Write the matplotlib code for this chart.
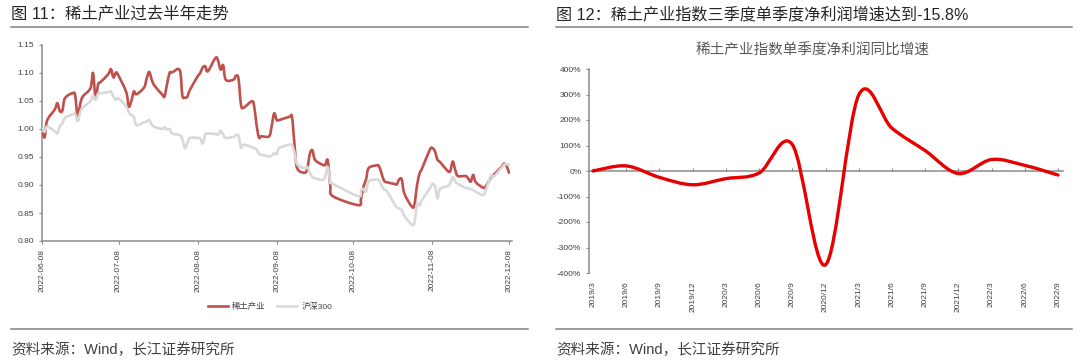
import matplotlib
matplotlib.use("Agg")
import matplotlib.pyplot as plt
import matplotlib.dates as mdates
from matplotlib.path import Path
from matplotlib.patches import PathPatch
from matplotlib.lines import Line2D
import numpy as np
import pandas as pd

plt.rcParams['font.family'] = ['Liberation Sans', 'Noto Sans CJK SC', 'DejaVu Sans']
plt.rcParams['axes.unicode_minus'] = False

# ---------------- data: left chart ----------------
holidays = ['2022-09-12', '2022-10-03', '2022-10-04', '2022-10-05', '2022-10-06', '2022-10-07']
dates = pd.bdate_range('2022-06-08', '2022-12-08')
dates = dates[~dates.isin(pd.to_datetime(holidays))]

rare_earth_jun = [1.000, 0.985, 1.015, 1.035, 1.046, 1.032, 1.033, 1.055, 1.064, 1.060, 1.020, 1.045, 1.058, 1.073, 1.100, 1.055, 1.080]
rare_earth_jul = [1.084, 1.098, 1.107, 1.092, 1.101, 1.095, 1.066, 1.040, 1.050, 1.067, 1.062, 1.074, 1.090, 1.102, 1.088, 1.078, 1.062, 1.058, 1.080, 1.100, 1.101]
rare_earth_aug = [1.105, 1.060, 1.056, 1.058, 1.070, 1.094, 1.100, 1.110, 1.112, 1.103, 1.127, 1.122, 1.106, 1.114, 1.088, 1.088, 1.095, 1.090, 1.043, 1.038, 1.049, 1.045, 1.010]
rare_earth_sep = [0.985, 0.987, 0.987, 1.005, 1.028, 1.016, 1.016, 1.022, 1.021, 0.970, 0.930, 0.922, 0.930, 0.956, 0.962, 0.945, 0.936, 0.936, 0.944, 0.898, 0.880]
rare_earth_oct = [0.864, 0.875, 0.897, 0.910, 0.930, 0.935, 0.934, 0.922, 0.908, 0.905, 0.902, 0.901, 0.910, 0.910, 0.885, 0.861]
rare_earth_nov = [0.866, 0.900, 0.921, 0.930, 0.963, 0.966, 0.960, 0.945, 0.941, 0.925, 0.925, 0.942, 0.926, 0.916, 0.916, 0.912, 0.906, 0.918, 0.905, 0.895, 0.898, 0.906]
rare_earth_dec = [0.914, 0.918, 0.932, 0.938, 0.935, 0.922]

hs300_jun = [1.000, 0.995, 1.004, 0.996, 0.992, 1.005, 1.010, 1.020, 1.026, 1.027, 1.014, 1.030, 1.038, 1.050, 1.060, 1.052, 1.063]
hs300_jul = [1.064, 1.066, 1.067, 1.058, 1.052, 1.055, 1.040, 1.030, 1.025, 1.022, 1.007, 1.012, 1.013, 1.016, 1.008, 1.004, 1.000, 1.003, 0.999, 1.000, 0.992]
hs300_aug = [0.989, 0.982, 0.966, 0.975, 0.984, 0.984, 0.983, 0.974, 0.990, 0.992, 0.991, 0.990, 0.997, 0.990, 0.984, 0.986, 0.989, 0.988, 0.967, 0.972, 0.968, 0.966, 0.964]
hs300_sep = [0.956, 0.954, 0.951, 0.952, 0.957, 0.955, 0.966, 0.972, 0.971, 0.957, 0.937, 0.930, 0.932, 0.922, 0.914, 0.912, 0.909, 0.915, 0.932, 0.906, 0.902]
hs300_oct = [0.880, 0.890, 0.893, 0.888, 0.906, 0.910, 0.909, 0.900, 0.892, 0.890, 0.867, 0.860, 0.858, 0.855, 0.845, 0.829]
hs300_nov = [0.834, 0.866, 0.864, 0.874, 0.894, 0.902, 0.898, 0.876, 0.893, 0.898, 0.904, 0.914, 0.906, 0.902, 0.895, 0.894, 0.893, 0.891, 0.888, 0.882, 0.892, 0.905]
hs300_dec = [0.918, 0.915, 0.930, 0.936, 0.937, 0.936]

rare_earth = (rare_earth_jun + rare_earth_jul + rare_earth_aug + rare_earth_sep
              + rare_earth_oct + rare_earth_nov + rare_earth_dec)
hs300 = hs300_jun + hs300_jul + hs300_aug + hs300_sep + hs300_oct + hs300_nov + hs300_dec

left_yticks = [0.80, 0.85, 0.90, 0.95, 1.00, 1.05, 1.10, 1.15]
left_xticks = ['2022-06-08', '2022-07-08', '2022-08-08', '2022-09-08',
               '2022-10-08', '2022-11-08', '2022-12-08']
legend_labels = ['稀土产业', '沪深300']

# ---------------- data: right chart ----------------
quarters = ['2019/3', '2019/6', '2019/9', '2019/12', '2020/3', '2020/6', '2020/9',
            '2020/12', '2021/3', '2021/6', '2021/9', '2021/12', '2022/3', '2022/6', '2022/9']
profit_growth = [0, 20, -25, -54, -30, -8, 104, -368, 298, 168, 80, -10, 45, 22, -15.8]
right_yticks = [-400, -300, -200, -100, 0, 100, 200, 300, 400]

# ---------------- styles ----------------
RED_L = '#C0504D'
GRAY_L = '#D9D9D9'
RED_R = '#E80000'
AXIS_C = '#8C8C8C'
TXT = '#404040'


def smooth_patch(x, y, color, lw, z):
    x = np.asarray(x, float)
    y = np.asarray(y, float)
    n = len(x)
    verts = [(x[0], y[0])]
    codes = [Path.MOVETO]
    for i in range(n - 1):
        i0 = i - 1 if i > 0 else i
        i3 = i + 2 if i + 2 < n else i + 1
        c1 = (x[i] + (x[i + 1] - x[i0]) / 6.0, y[i] + (y[i + 1] - y[i0]) / 6.0)
        c2 = (x[i + 1] - (x[i3] - x[i]) / 6.0, y[i + 1] - (y[i3] - y[i]) / 6.0)
        verts += [c1, c2, (x[i + 1], y[i + 1])]
        codes += [Path.CURVE4] * 3
    return PathPatch(Path(verts, codes), fill=False, edgecolor=color, lw=lw,
                     capstyle='round', joinstyle='round', zorder=z)


fig = plt.figure(figsize=(10.8, 3.64), dpi=100)
W, H = 1080.0, 364.0


def fx(px):
    return px / W


def fy(py):
    return 1 - py / H


# ---------- headers / footers ----------
fig.text(fx(11), fy(13), '图 11：稀土产业过去半年走势', fontsize=11.8, color='#262626',
         ha='left', va='center')
fig.text(fx(556), fy(14), '图 12：稀土产业指数三季度单季度净利润增速达到-15.8%', fontsize=11.6,
         color='#262626', ha='left', va='center')
for x0, x1 in [(11, 528), (556, 1072)]:
    fig.add_artist(Line2D([fx(x0), fx(x1)], [fy(26.5), fy(26.5)], color='#808080', lw=1.1))
    fig.add_artist(Line2D([fx(x0), fx(x1)], [fy(329), fy(329)], color='#808080', lw=1.1))
fig.text(fx(11), fy(350), '资料来源：Wind，长江证券研究所', fontsize=10.5, color='#404040',
         ha='left', va='center')
fig.text(fx(556), fy(350), '资料来源：Wind，长江证券研究所', fontsize=10.5, color='#404040',
         ha='left', va='center')

# ---------- left chart ----------
axL = fig.add_axes([fx(42), fy(241), fx(512 - 42), (241 - 45) / H])
xd = mdates.date2num(dates.to_pydatetime())
axL.add_patch(smooth_patch(xd, rare_earth, RED_L, 1.9, 3))
axL.add_patch(smooth_patch(xd, hs300, GRAY_L, 1.9, 4))
x_start = mdates.date2num(pd.Timestamp('2022-06-08'))
x_end = mdates.date2num(pd.Timestamp('2022-12-08'))
axL.set_xlim(x_start, x_end + 1.2)
axL.set_ylim(0.80, 1.15)
axL.set_yticks(left_yticks)
axL.set_yticklabels(['%.2f' % v for v in left_yticks])
axL.set_xticks(mdates.date2num(pd.to_datetime(left_xticks).to_pydatetime()))
axL.set_xticklabels(left_xticks, rotation=90)
for s in ['top', 'right']:
    axL.spines[s].set_visible(False)
for s in ['left', 'bottom']:
    axL.spines[s].set_color(AXIS_C)
    axL.spines[s].set_linewidth(1.1)
axL.tick_params(axis='both', labelsize=6, colors=AXIS_C, labelcolor=TXT, length=2.5,
                width=0.8, direction='out', pad=3)

handles = [Line2D([], [], color=RED_L, lw=1.9), Line2D([], [], color=GRAY_L, lw=1.9)]
fig.legend(handles, legend_labels, loc='center', bbox_to_anchor=(fx(270), fy(307)),
           ncol=2, frameon=False, fontsize=6, handlelength=2.4, handletextpad=0.5,
           columnspacing=1.4, labelcolor=TXT)

# ---------- right chart ----------
fig.text(fx(813), fy(51), '稀土产业指数单季度净利润同比增速', fontsize=10.5, color='#595959',
         ha='center', va='center')
axR = fig.add_axes([fx(589), fy(273), fx(1063 - 589), (273 - 69) / H])
xi = np.arange(len(quarters))
axR.add_patch(smooth_patch(xi, profit_growth, RED_R, 2.4, 3))
axR.set_xlim(-0.12, len(quarters) - 1 + 0.15)
axR.set_ylim(-400, 400)
axR.set_yticks(right_yticks)
axR.set_yticklabels(['%d%%' % v for v in right_yticks])
axR.spines['top'].set_visible(False)
axR.spines['right'].set_visible(False)
axR.spines['left'].set_color(AXIS_C)
axR.spines['left'].set_linewidth(1.1)
axR.spines['bottom'].set_position(('data', 0))
axR.spines['bottom'].set_color(AXIS_C)
axR.spines['bottom'].set_linewidth(1.1)
axR.set_xticks(xi)
axR.tick_params(axis='x', direction='in', length=2.5, width=0.8, colors=AXIS_C,
                labelbottom=False)
axR.tick_params(axis='y', direction='out', length=2.5, width=0.8, colors=AXIS_C,
                labelcolor=TXT, labelsize=6, pad=3)
sec = axR.secondary_xaxis('bottom')
sec.set_xticks(xi)
sec.set_xticklabels(quarters, rotation=90)
sec.tick_params(length=0, labelsize=6, labelcolor=TXT, pad=6)
sec.spines['bottom'].set_visible(False)

fig.savefig('out.png', dpi=100)
